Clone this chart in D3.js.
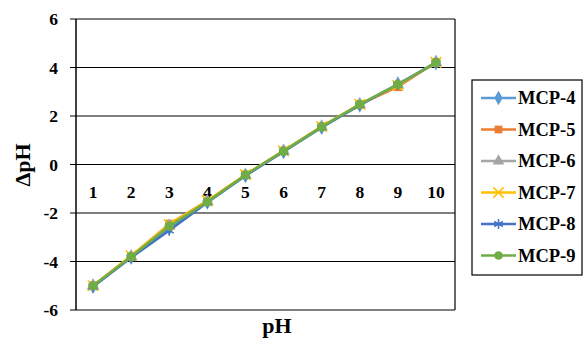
<!DOCTYPE html>
<meta charset="utf-8">
<style>
    body { margin: 0; background: #fff; }
    text { font-family: "Liberation Serif", "DejaVu Serif", serif; font-weight: bold; }
    .grid line { stroke: #000; stroke-width: 1.2px; }
</style>
<body>
<script src="https://d3js.org/d3.v7.min.js"></script>
<script>
    var categories = [1, 2, 3, 4, 5, 6, 7, 8, 9, 10];
    var yTicks = [-6, -4, -2, 0, 2, 4, 6];
    var seriesNames = ["MCP-4", "MCP-5", "MCP-6", "MCP-7", "MCP-8", "MCP-9"];
    var mcp4 = [-5.02, -3.82, -2.62, -1.55, -0.45, 0.54, 1.54, 2.46, 3.32, 4.2];
    var mcp5 = [-5.0, -3.78, -2.45, -1.5, -0.43, 0.56, 1.56, 2.48, 3.2, 4.22];
    var mcp6 = [-5.0, -3.8, -2.52, -1.52, -0.44, 0.55, 1.55, 2.47, 3.28, 4.2];
    var mcp7 = [-5.0, -3.76, -2.48, -1.5, -0.42, 0.56, 1.56, 2.48, 3.26, 4.21];
    var mcp8 = [-5.04, -3.84, -2.72, -1.57, -0.46, 0.53, 1.53, 2.45, 3.3, 4.19];
    var mcp9 = [-5.0, -3.8, -2.54, -1.54, -0.43, 0.55, 1.55, 2.48, 3.3, 4.2];
    var colors = ["#5B9BD5", "#ED7D31", "#A5A5A5", "#FFC000", "#4472C4", "#70AD47"];
    var symbols = ["diamond", "square", "triangle", "cross", "star", "circle"];

    var allValues = [mcp4, mcp5, mcp6, mcp7, mcp8, mcp9];
    var series = seriesNames.map(function(n, i) {
        return { name: n, values: allValues[i], color: colors[i], symbol: symbols[i] };
    });

    var svg = d3.select("body").append("svg").attr("width", 583).attr("height", 338);

    var plotLeft = 76, plotRight = 455, plotTop = 19, plotBottom = 310;

    var x = d3.scalePoint().domain(categories).range([plotLeft - 2, plotRight]).padding(0.5);
    var y = d3.scaleLinear().domain([-6, 6]).range([plotBottom, plotTop]);

    // grid lines + ticks
    var grid = svg.append("g").attr("class", "grid");
    grid.selectAll("line").data(yTicks).enter().append("line")
        .attr("x1", plotLeft - 6).attr("x2", plotRight)
        .attr("y1", d => y(d)).attr("y2", d => y(d));

    svg.append("line").attr("x1", plotLeft).attr("x2", plotLeft).attr("y1", plotTop).attr("y2", plotBottom)
        .attr("stroke", "#000").attr("stroke-width", 1.5);
    svg.append("line").attr("x1", plotRight).attr("x2", plotRight).attr("y1", plotTop).attr("y2", plotBottom)
        .attr("stroke", "#000").attr("stroke-width", 1.2);

    svg.selectAll(".ytick").data(yTicks).enter().append("text").attr("class", "ytick")
        .attr("x", plotLeft - 18).attr("y", d => y(d) + 6)
        .attr("text-anchor", "end").style("font-size", "17.5px")
        .text(d => d);

    svg.selectAll(".xtick").data(categories).enter().append("text").attr("class", "xtick")
        .attr("x", d => x(d)).attr("y", y(0) + 33)
        .attr("text-anchor", "middle").style("font-size", "17.5px")
        .text(d => d);

    svg.append("text").attr("x", 277).attr("y", 333).attr("text-anchor", "middle")
        .style("font-size", "22px").text("pH");
    svg.append("text").attr("transform", "translate(30,165) rotate(-90)").attr("text-anchor", "middle")
        .style("font-size", "22px").text("ΔpH");

    var line = d3.line().x((d, i) => x(categories[i])).y(d => y(d));

    function symbolPath(name, size) {
        var map = {
            diamond: d3.symbolDiamond, square: d3.symbolSquare, triangle: d3.symbolTriangle,
            cross: d3.symbolTimes, star: d3.symbolAsterisk, circle: d3.symbolCircle
        };
        return d3.symbol().type(map[name]).size(size)();
    }
    function isStroke(name) { return name == "cross" || name == "star"; }

    series.forEach(function(s) {
        var g = svg.append("g");
        g.append("path").datum(s.values).attr("d", line)
            .attr("fill", "none").attr("stroke", s.color).attr("stroke-width", 2.5);
        g.selectAll("path.m").data(s.values).enter().append("path").attr("class", "m")
            .attr("transform", (d, i) => "translate(" + x(categories[i]) + "," + y(d) + ")")
            .attr("d", symbolPath(s.symbol, isStroke(s.symbol) ? 75 : 70))
            .attr("fill", isStroke(s.symbol) ? "none" : s.color)
            .attr("stroke", s.color).attr("stroke-width", isStroke(s.symbol) ? 1.5 : 0);
    });

    // legend
    var lg = svg.append("g").attr("transform", "translate(472,80)");
    lg.append("rect").attr("x", 0).attr("y", 0).attr("width", 110).attr("height", 195)
        .attr("fill", "#fff").attr("stroke", "#000").attr("stroke-width", 1.2);
    var items = lg.selectAll(".item").data(series).enter().append("g").attr("class", "item")
        .attr("transform", (d, i) => "translate(0," + (18 + i * 31.5) + ")");
    items.append("line").attr("x1", 9).attr("x2", 44).attr("y1", 0).attr("y2", 0)
        .attr("stroke", d => d.color).attr("stroke-width", 2.5);
    items.append("path").attr("transform", "translate(26.5,0)")
        .attr("d", d => symbolPath(d.symbol, isStroke(d.symbol) ? 70 : 60))
        .attr("fill", d => isStroke(d.symbol) ? "none" : d.color)
        .attr("stroke", d => d.color).attr("stroke-width", d => isStroke(d.symbol) ? 1.5 : 0);
    items.append("text").attr("x", 46).attr("y", 6).style("font-size", "18.5px").text(d => d.name);
</script>
</body>
